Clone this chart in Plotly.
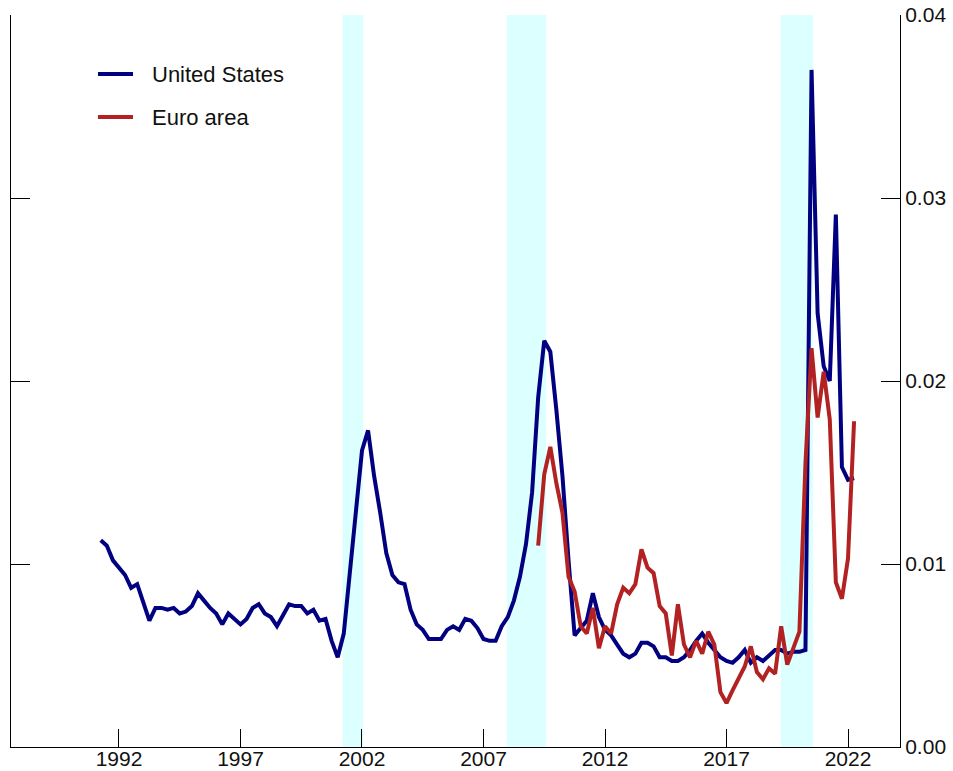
import numpy as np
import plotly.graph_objects as go

# Quarterly observations, first quarter plotted at 1991.25
start_year = 1991.25

us_values = [
    0.0113, 0.0110, 0.0102, 0.0098, 0.0094, 0.0087, 0.0089, 0.0079, 0.0069, 0.0076,
    0.0076, 0.0075, 0.0076, 0.0073, 0.0074, 0.0077, 0.0084, 0.0080, 0.0076, 0.0073,
    0.0067, 0.0073, 0.0070, 0.0067, 0.0070, 0.0076, 0.0078, 0.0073, 0.0071, 0.0066,
    0.0072, 0.0078, 0.0077, 0.0077, 0.0073, 0.0075, 0.0069, 0.0070, 0.0058, 0.0049,
    0.0062, 0.0096, 0.0131, 0.0162, 0.0173, 0.0148, 0.0128, 0.0106, 0.0094, 0.0090,
    0.0089, 0.0075, 0.0067, 0.0064, 0.0059, 0.0059, 0.0059, 0.0064, 0.0066, 0.0064,
    0.0070, 0.0069, 0.0065, 0.0059, 0.0058, 0.0058, 0.0066, 0.0071, 0.0080, 0.0093,
    0.0111, 0.0139, 0.0191, 0.0222, 0.0216, 0.0184, 0.0148, 0.0102, 0.0061, 0.0065,
    0.0069, 0.0084, 0.0071, 0.0064, 0.0061, 0.0056, 0.0051, 0.0049, 0.0051, 0.0057,
    0.0057, 0.0055, 0.0049, 0.0049, 0.0047, 0.0047, 0.0049, 0.0053, 0.0058, 0.0062,
    0.0057, 0.0053, 0.0049, 0.0047, 0.0046, 0.0049, 0.0053, 0.0046, 0.0049, 0.0047,
    0.0050, 0.0053, 0.0053, 0.0051, 0.0052, 0.0052, 0.0053, 0.0370, 0.0237, 0.0208,
    0.0200, 0.0291, 0.0153, 0.0146, 0.0147,
]

# Euro area series begins 72 quarters after the US series
euro_offset = 72
euro_values = [
    0.0110, 0.0149, 0.0164, 0.0144, 0.0128, 0.0093, 0.0085, 0.0066, 0.0062, 0.0076,
    0.0054, 0.0066, 0.0062, 0.0078, 0.0087, 0.0084, 0.0089, 0.0108, 0.0098, 0.0095,
    0.0077, 0.0073, 0.0050, 0.0078, 0.0056, 0.0049, 0.0058, 0.0051, 0.0063, 0.0056,
    0.0030, 0.0024, 0.0031, 0.0038, 0.0044, 0.0055, 0.0041, 0.0037, 0.0043, 0.0040,
    0.0066, 0.0045, 0.0054, 0.0063, 0.0155, 0.0218, 0.0180, 0.0205, 0.0179, 0.0090,
    0.0081, 0.0103, 0.0178,
]

# Shaded recession periods (fractional years)
recession_start = [2001.2, 2007.96, 2019.23]
recession_end = [2002.05, 2009.57, 2020.56]

x_ticks = [1992, 1997, 2002, 2007, 2012, 2017, 2022]
y_ticks = [0.0, 0.01, 0.02, 0.03, 0.04]
y_tick_labels = ["0.00", "0.01", "0.02", "0.03", "0.04"]

series_names = ["United States", "Euro area"]
series_colors = ["#000080", "#b22222"]

us_x = start_year + np.arange(len(us_values)) / 4.0
euro_x = start_year + (euro_offset + np.arange(len(euro_values))) / 4.0

FONT = "Liberation Sans, Arial, sans-serif"
W, H = 953, 771
M = dict(l=11, r=53, t=15, b=24)
PW, PH = W - M["l"] - M["r"], H - M["t"] - M["b"]

fig = go.Figure()
for xs, ys, name, color in zip([us_x, euro_x], [us_values, euro_values],
                               series_names, series_colors):
    fig.add_trace(go.Scatter(x=xs, y=ys, mode="lines", name=name,
                             line=dict(color=color, width=4), showlegend=False))

for x0, x1 in zip(recession_start, recession_end):
    fig.add_shape(type="rect", xref="x", yref="paper", x0=x0, x1=x1, y0=0, y1=1,
                  fillcolor="#dcffff", line=dict(width=0), layer="below")

# Key in the upper-left corner: short line sample plus label per series
def px_x(p):
    return (p - M["l"]) / PW

def px_y(p):
    return 1 - (p - M["t"]) / PH

for i, (name, color) in enumerate(zip(series_names, series_colors)):
    row_y = 74 + 43 * i
    fig.add_shape(type="line", xref="paper", yref="paper",
                  x0=px_x(98), x1=px_x(133), y0=px_y(row_y), y1=px_y(row_y),
                  line=dict(color=color, width=4))
    fig.add_annotation(xref="paper", yref="paper", x=px_x(150), y=px_y(row_y),
                       xanchor="left", yanchor="middle", text=name, showarrow=False,
                       font=dict(family=FONT, size=22, color="#111111"))

fig.update_layout(
    width=W, height=H, autosize=False,
    margin=M,
    paper_bgcolor="white", plot_bgcolor="white",
    font=dict(family=FONT, size=21, color="#111111"),
    showlegend=False,
    xaxis=dict(
        range=[1987.556, 2024.14], tickmode="array", tickvals=x_ticks,
        ticktext=[str(t) for t in x_ticks], automargin=False,
        ticklabelstandoff=-7,
        showgrid=False, zeroline=False, showline=True, linecolor="black", linewidth=1,
        ticks="inside", ticklen=18, tickcolor="black", mirror=False,
    ),
    yaxis=dict(
        range=[0, 0.04], side="right", tickmode="array", tickvals=y_ticks,
        ticktext=y_tick_labels, automargin=False,
        showgrid=False, zeroline=False, showline=True, linecolor="black", linewidth=1,
        ticks="inside", ticklen=19, tickcolor="black", mirror="ticks",
    ),
)

fig.write_html("out.html")
